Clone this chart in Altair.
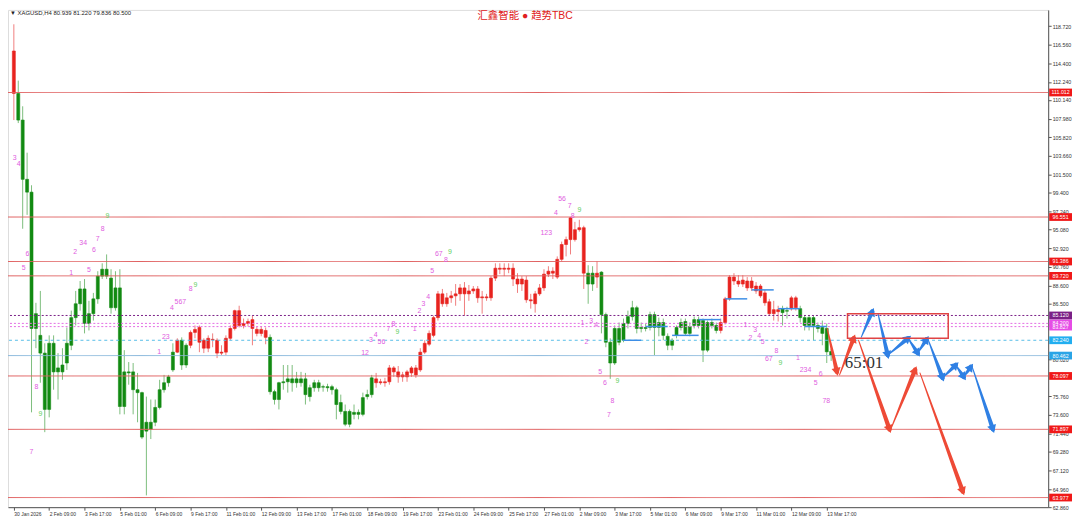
import math
import altair as alt
import pandas as pd

# ---------------- data ----------------
bar_open = [115.83,110.90,107.81,100.93,99.44,85.33,82.81,80.75,74.21,81.89,79.03,78.57,79.60,81.66,84.87,86.48,88.20,84.19,85.33,87.05,
            89.69,90.49,89.46,86.02,88.32,74.55,78.57,78.57,76.50,76.16,71.69,71.92,72.72,74.44,76.50,77.31,78.80,80.86,82.24,79.37,
            81.66,83.15,83.73,82.24,81.32,82.35,82.24,80.75,80.86,82.47,83.61,85.68,83.96,84.19,84.64,83.50,83.04,83.38,82.58,76.27,
            75.36,77.31,77.42,77.76,77.31,77.76,77.76,75.70,76.73,77.31,76.85,76.85,76.85,76.50,75.01,73.98,72.49,73.87,73.64,73.64,
            75.70,75.93,77.31,77.42,77.31,77.42,79.03,78.57,77.99,77.99,78.45,78.22,78.80,80.86,81.78,82.81,84.87,87.63,86.48,87.17,
            87.40,87.63,88.32,87.63,87.97,88.20,87.17,87.28,87.17,89.46,90.61,90.49,90.61,90.61,89.35,88.77,89.23,86.94,86.48,87.63,
            88.32,89.92,90.26,89.58,91.64,93.36,93.93,95.08,95.08,95.31,90.03,90.03,89.58,90.15,85.22,82.01,79.60,83.61,82.24,84.19,
            84.99,86.02,83.61,83.61,83.73,85.22,84.30,84.30,82.70,81.66,82.81,83.73,84.42,83.04,83.96,84.64,84.53,81.09,84.30,83.96,
            83.38,84.30,87.05,89.58,89.12,88.77,89.12,88.32,88.54,88.54,87.74,86.71,85.33,85.79,85.45,85.68,85.91,87.17,85.91,84.87,
            83.96,84.87,83.96,83.73,83.61,80.94]
bar_high = [118.93,112.39,109.41,104.02,100.24,86.59,87.97,81.89,82.81,82.81,80.75,81.32,83.73,85.68,87.97,89.12,89.35,86.82,87.74,90.26,
            91.18,92.21,90.49,90.26,90.49,81.09,79.71,79.60,78.45,76.27,75.70,75.36,75.36,77.65,78.22,78.22,81.89,82.47,82.58,81.89,
            83.38,83.96,83.96,82.47,82.81,83.04,82.47,81.66,82.81,83.96,85.79,86.25,84.76,84.76,85.10,83.84,83.84,83.73,82.92,76.50,
            77.42,79.37,79.37,79.37,78.57,78.57,78.45,77.08,77.65,77.65,77.08,77.19,77.08,76.73,75.93,74.78,74.21,74.78,74.21,76.16,
            76.50,78.22,78.45,77.76,77.88,79.37,79.25,79.25,78.57,78.80,79.25,79.37,81.32,82.24,83.38,85.10,87.97,88.20,87.74,87.97,
            88.77,88.77,89.00,88.66,88.54,88.54,87.97,87.63,89.69,91.18,91.18,91.18,91.18,91.18,90.03,89.69,89.69,87.63,87.97,88.77,
            90.49,90.84,90.72,91.98,93.70,94.28,96.57,95.99,96.23,95.54,90.95,90.84,91.41,90.26,85.45,82.47,83.96,84.30,84.76,85.68,
            86.82,86.25,84.30,84.19,85.56,85.56,84.87,84.76,83.04,82.47,83.96,84.76,84.76,84.30,84.99,84.99,84.76,84.53,84.76,84.30,
            84.76,87.28,89.80,90.03,89.80,89.80,89.58,89.58,89.00,88.77,88.09,87.05,86.82,86.25,86.25,86.13,87.40,87.40,86.25,85.10,
            85.10,85.10,84.30,84.53,84.19,81.22]
bar_low = [107.81,107.46,95.19,96.80,73.87,81.32,77.31,71.57,73.29,76.50,75.36,77.65,78.80,81.09,83.96,85.68,83.04,83.38,84.53,86.48,
           89.35,89.35,85.33,85.68,73.64,73.64,77.08,73.64,72.72,70.77,64.23,70.77,72.26,74.21,76.16,76.85,78.57,80.75,78.80,79.03,
           81.32,82.47,80.86,80.75,80.86,81.43,80.17,80.52,80.52,82.24,83.38,83.73,83.61,83.84,81.66,82.70,82.70,81.78,75.93,74.78,
           74.21,76.50,76.16,76.27,76.73,76.85,74.78,75.13,76.27,76.27,76.27,76.27,75.93,73.06,73.64,72.26,72.14,73.06,73.06,73.41,
           75.36,75.58,76.73,77.08,76.85,77.08,77.99,77.31,77.42,77.42,77.99,77.88,78.57,80.63,81.55,82.58,84.53,86.13,86.13,86.59,
           86.25,86.82,85.10,86.82,87.63,86.59,85.33,86.82,86.82,89.12,89.92,89.69,90.03,88.54,87.74,87.97,86.59,85.91,85.45,87.40,
           87.97,89.58,89.35,89.35,91.41,91.98,92.21,93.70,94.85,88.20,86.48,87.97,88.32,83.04,81.43,77.76,79.37,81.66,82.01,83.61,
           84.53,83.04,83.15,83.27,83.38,80.52,82.70,82.24,81.09,81.09,82.47,83.38,82.81,82.70,83.61,83.61,79.71,80.86,83.61,83.04,
           83.04,84.07,86.82,88.66,88.43,88.43,87.97,87.97,87.63,87.17,86.25,85.10,84.53,84.42,83.96,84.76,85.68,85.68,84.30,83.38,
           83.38,82.24,83.15,81.66,79.60,79.84]
bar_close = [110.90,107.81,100.93,99.44,83.61,83.61,80.75,74.21,81.89,78.57,78.57,79.37,81.89,84.87,86.48,88.20,84.19,85.33,87.05,89.69,
             90.49,89.69,86.02,88.32,74.55,78.57,78.45,76.50,76.16,71.00,72.72,72.72,74.44,76.50,77.31,77.99,80.86,82.24,79.37,81.66,
             83.15,83.50,82.01,81.32,82.47,82.30,80.75,80.86,82.47,83.61,85.68,83.96,84.19,84.42,83.61,83.04,83.50,82.58,76.27,75.36,
             77.31,77.42,77.76,77.31,77.76,77.31,75.93,76.73,77.31,76.73,76.80,76.73,76.50,74.78,73.98,72.49,73.98,73.64,73.87,75.58,
             75.93,77.88,77.76,77.31,77.42,79.03,78.57,77.99,78.22,78.57,79.03,79.03,80.86,81.89,83.04,84.87,87.63,86.48,87.17,87.40,
             87.63,88.32,87.63,87.97,88.20,87.17,87.28,87.17,89.46,90.61,90.49,90.61,90.49,89.35,88.77,89.35,86.94,86.82,87.63,88.32,
             89.92,90.26,90.03,91.64,93.36,93.93,96.46,93.93,95.31,90.03,88.77,88.77,90.03,85.22,82.01,79.60,83.61,82.01,84.19,84.99,
             86.02,83.61,83.73,83.73,85.22,83.73,83.73,82.81,81.66,82.24,83.73,84.30,83.04,83.84,84.64,83.96,81.09,84.30,83.96,83.38,
             84.30,87.05,89.58,89.12,88.77,89.23,88.32,89.12,87.97,87.40,86.59,85.33,85.79,85.56,85.91,85.62,87.17,86.02,84.87,83.96,
             84.87,83.96,83.61,83.04,80.90,80.50]
trend_runs = [("R", 1), ("G", 36), ("R", 1), ("G", 2), ("R", 18), ("G", 24), ("R", 48), ("G", 2),
              ("R", 1), ("G", 27), ("R", 14), ("G", 2), ("R", 2), ("G", 8)]

x_labels = ["30 Jan 2026", "2 Feb 09:00", "3 Feb 17:00", "5 Feb 01:00", "6 Feb 09:00", "9 Feb 17:00",
            "11 Feb 01:00", "12 Feb 09:00", "13 Feb 17:00", "17 Feb 01:00", "18 Feb 09:00", "19 Feb 17:00",
            "23 Feb 01:00", "24 Feb 09:00", "25 Feb 17:00", "27 Feb 01:00", "2 Mar 09:00", "3 Mar 17:00",
            "5 Mar 01:00", "6 Mar 09:00", "9 Mar 17:00", "11 Mar 01:00", "12 Mar 09:00", "13 Mar 17:00"]
y_ticks = [118.720, 116.560, 114.400, 112.240, 110.140, 107.980, 105.820, 103.660, 101.500,
           99.400, 97.240, 95.080, 92.920, 90.760, 88.600, 86.500, 80.020,
           75.760, 73.600, 71.440, 69.280, 67.120, 64.960, 62.860]

level_price = [111.012, 96.551, 91.386, 89.720, 84.200, 85.120, 83.827, 82.240, 80.462, 78.097, 71.897, 63.977]
level_kind = ["red", "red", "red", "red", "magenta", "purple", "magenta", "cyan", "blue", "red", "red", "red"]

step_start = [138, 143, 149, 155, 161, 167, 173, 179]
step_end = [142, 148, 155, 160, 166, 172, 178, 184]
step_price = [82.24, 83.84, 82.81, 84.64, 87.05, 88.09, 85.91, 83.84]

td_bar = [0.2, 1.1, 2.2, 3.1, 4.0, 5.1, 6.0,
          13.0, 13.9, 15.7, 17.0, 18.1, 19.0, 20.1, 21.2,
          32.9, 34.4, 35.8, 37.7, 40.0, 41.1,
          79.5, 80.8, 81.9, 83.2, 84.8, 85.9, 86.8,
          90.7, 91.8, 92.7, 93.8, 94.7, 96.2, 97.8, 98.7,
          120.5, 122.7, 124.1, 125.8, 126.5, 128.0,
          128.7, 129.6, 130.7, 131.8, 132.7, 133.8, 134.7, 135.5, 136.6,
          165.6, 166.7, 167.8, 168.7, 169.5, 170.9, 172.6, 173.5,
          177.5, 179.2, 181.5, 182.6, 183.9]
td_price = [103.45, 102.76, 90.61, 92.21, 69.28, 76.85, 73.64,
            90.03, 92.44, 93.59, 90.38, 92.67, 94.05, 95.19, 96.69,
            80.86, 82.58, 86.02, 86.71, 88.20, 88.66,
            80.75, 82.24, 82.81, 82.01, 83.50, 84.07, 83.15,
            83.50, 85.68, 86.48, 87.28, 90.26, 92.21, 91.52, 92.44,
            94.74, 97.03, 98.63, 97.82, 96.69, 97.38,
            84.30, 82.01, 84.53, 83.96, 78.57, 77.31, 73.52, 75.13, 77.54,
            83.96, 82.47, 83.38, 82.70, 82.01, 80.06, 80.98, 79.60,
            80.17, 78.80, 77.31, 78.34, 75.13]
td_text = ["3", "4", "5", "6", "7", "8", "9",
           "1", "2", "34", "5", "6", "7", "8", "9",
           "1", "23", "4", "567", "8", "9",
           "12", "3", "4", "56", "7", "8", "9",
           "1", "2", "3", "4", "5", "67", "8", "9",
           "123", "4", "56", "7", "8", "9",
           "1", "2", "3", "4", "5", "6", "7", "8", "9",
           "1", "2", "3", "4", "5", "67", "8", "9",
           "1", "234", "5", "6", "78"]

red_arrow_b1 = [184.1, 186.9, 191.2, 198.5, 205.1]
red_arrow_p1 = [83.61, 78.22, 82.24, 71.92, 78.45]
red_arrow_b2 = [186.3, 190.1, 198.2, 204.0, 214.8]
red_arrow_p2 = [78.57, 82.47, 71.92, 78.80, 64.69]
blue_arrow_b1 = [191.8, 195.6, 197.8, 202.4, 204.6, 207.0, 210.2, 213.2, 215.0, 217.0]
blue_arrow_p1 = [82.58, 85.33, 80.52, 82.47, 80.75, 82.24, 77.88, 79.37, 77.99, 79.03]
blue_arrow_b2 = [194.3, 197.8, 202.4, 204.6, 206.6, 210.2, 213.2, 215.0, 216.6, 221.6]
blue_arrow_p2 = [85.56, 80.52, 82.47, 80.75, 82.35, 77.88, 79.37, 77.99, 79.14, 71.92]

box_bar = [188.7, 211.5]
box_price = [82.47, 85.33]
timer_bar = [188.1]
timer_price = [79.60]
timer_text = ["65:01"]

title_text = "汇鑫智能 ● 趋势TBC"
header_text = "▼  XAGUSD,H4  80.939 81.220 79.836 80.500"

# ---------------- layout / style ----------------
W, H = 1048, 501
X_DOMAIN = [-0.2, 233.0]
Y_DOMAIN = [62.86, 120.6]
FONT = "Liberation Sans"

BODY = {"R": "#e8231f", "G": "#128a12"}
WICK = {"R": "#f07e7e", "G": "#7dbd7d"}
LINE_COL = {"red": "#e06060", "purple": "#7a1f86", "magenta": "#e46ee4", "cyan": "#58bde8", "blue": "#8ab8dc"}
BOX_COL = {"red": "#f01818", "purple": "#7a1f86", "magenta": "#e64ce6", "cyan": "#22aef0", "blue": "#2aa4e6"}
DASH = {"red": [1, 0], "purple": [2, 2], "magenta": [2, 2], "cyan": [3, 3], "blue": [1, 0]}

trend = []
for t, n in trend_runs:
    trend += [t] * n

candles = pd.DataFrame({
    "bar": list(range(len(bar_open))),
    "open": bar_open, "high": bar_high, "low": bar_low, "close": bar_close,
    "trend": trend,
})
candles["body_col"] = candles["trend"].map(BODY)
candles["wick_col"] = candles["trend"].map(WICK)

xs = alt.Scale(domain=X_DOMAIN, nice=False, zero=False)
ys = alt.Scale(domain=Y_DOMAIN, nice=False, zero=False)

label_arr = "[" + ",".join("'" + s + "'" for s in x_labels) + "]"
x_axis = alt.Axis(values=list(range(0, 8 * len(x_labels), 8)), labelExpr=label_arr + "[round(datum.value/8)]",
                  title=None, grid=False, labelAlign="left", labelFontSize=5, labelFont=FONT,
                  labelColor="#333333", labelPadding=1, tickSize=3, tickColor="#555555",
                  domainColor="#555555", labelOverlap=False, labelFlush=False)
y_axis = alt.Axis(orient="right", values=y_ticks, labelExpr="format(datum.value, '.3f')",
                  title=None, grid=False, labelFontSize=5.3, labelFont=FONT, labelColor="#333333",
                  labelPadding=1, tickSize=3, tickColor="#555555", domainColor="#555555",
                  labelOverlap=False, labelFlush=False)


def X(field):
    return alt.X(field, scale=xs, axis=x_axis)


def Y(field):
    return alt.Y(field, scale=ys, axis=y_axis)


wicks = alt.Chart(candles).mark_rule(strokeWidth=1).encode(
    x=X("bar:Q"), y=Y("low:Q"), y2="high:Q",
    color=alt.Color("wick_col:N", scale=None),
)
bodies = alt.Chart(candles).mark_bar(size=3, strokeWidth=0.6).encode(
    x=X("bar:Q"), y=Y("open:Q"), y2="close:Q",
    color=alt.Color("body_col:N", scale=None),
    stroke=alt.Stroke("body_col:N", scale=None),
)

levels = pd.DataFrame({"price": level_price, "kind": level_kind})
levels["col"] = levels["kind"].map(LINE_COL)
levels["box"] = levels["kind"].map(BOX_COL)
levels["lo"] = levels["price"] - 0.45
levels["hi"] = levels["price"] + 0.45
levels["label"] = levels["price"].map(lambda v: f"{v:.3f}")

level_layers = []
for kind in ["red", "purple", "magenta", "cyan", "blue"]:
    sub = levels[levels["kind"] == kind]
    level_layers.append(
        alt.Chart(sub).mark_rule(strokeWidth=1, strokeDash=DASH[kind]).encode(
            y=Y("price:Q"),
            color=alt.Color("col:N", scale=None),
        )
    )

steps = pd.DataFrame({"b1": step_start, "b2": step_end, "price": step_price})
step_layer = alt.Chart(steps).mark_rule(strokeWidth=1.5, color="#3d8ee6").encode(
    x=X("b1:Q"), x2="b2:Q", y=Y("price:Q"),
)

td = pd.DataFrame({"bar": td_bar, "price": td_price, "text": td_text})
td["col"] = ["#5fcf5f" if t == "9" else "#e05ce0" for t in td_text]
td_layer = alt.Chart(td).mark_text(fontSize=7, font=FONT).encode(
    x=X("bar:Q"), y=Y("price:Q"),
    text="text:N",
    color=alt.Color("col:N", scale=None),
)

# forecast arrows
kx = W / (X_DOMAIN[1] - X_DOMAIN[0])
ky = H / (Y_DOMAIN[1] - Y_DOMAIN[0])
trail_rows, head_rows = [], []
arrow_sets = [("#ee4a36", red_arrow_b1, red_arrow_p1, red_arrow_b2, red_arrow_p2),
              ("#2f80e4", blue_arrow_b1, blue_arrow_p1, blue_arrow_b2, blue_arrow_p2)]
seg = 0
for col, b1s, p1s, b2s, p2s in arrow_sets:
    for b1, p1, b2, p2 in zip(b1s, p1s, b2s, p2s):
        trail_rows.append({"seg": seg, "bar": b1, "price": p1, "w": 1.0, "col": col})
        trail_rows.append({"seg": seg, "bar": b2, "price": p2, "w": 4.5, "col": col})
        sx = (b2 - b1) * kx
        sy = -(p2 - p1) * ky
        ang = math.degrees(math.atan2(sx, -sy)) % 360
        head_rows.append({"bar": b2, "price": p2, "ang": ang, "col": col})
        seg += 1
trails = alt.Chart(pd.DataFrame(trail_rows)).mark_trail().encode(
    x=X("bar:Q"), y=Y("price:Q"),
    size=alt.Size("w:Q", scale=None),
    detail="seg:N",
    color=alt.Color("col:N", scale=None),
)
heads = alt.Chart(pd.DataFrame(head_rows)).mark_point(shape="triangle-up", filled=True, size=85, opacity=1).encode(
    x=X("bar:Q"), y=Y("price:Q"),
    angle=alt.Angle("ang:Q", scale=None),
    color=alt.Color("col:N", scale=None),
)

box = alt.Chart(pd.DataFrame({"b1": [box_bar[0]], "b2": [box_bar[1]], "p1": [box_price[0]], "p2": [box_price[1]]})).mark_rect(
    fillOpacity=0, stroke="#e04444", strokeWidth=1.5).encode(
    x=X("b1:Q"), x2="b2:Q", y=Y("p1:Q"), y2="p2:Q",
)
timer = alt.Chart(pd.DataFrame({"bar": timer_bar, "price": timer_price, "text": timer_text})).mark_text(
    font="Liberation Serif", fontSize=17, color="#333333", align="left", baseline="middle").encode(
    x=X("bar:Q"), y=Y("price:Q"), text="text:N",
)

# right-axis price boxes
label_boxes = []
for kind in ["red", "blue", "cyan", "magenta", "purple"]:
    sub = levels[levels["kind"] == kind]
    label_boxes.append(alt.Chart(sub).mark_rect().encode(
        x=alt.value(W + 1), x2=alt.value(W + 24),
        y=Y("lo:Q"), y2="hi:Q",
        color=alt.Color("box:N", scale=None),
    ))
    label_boxes.append(alt.Chart(sub).mark_text(fontSize=5.3, font=FONT, color="white", align="center", baseline="middle").encode(
        x=alt.value(W + 12.5),
        y=Y("price:Q"),
        text="label:N",
    ))

one = pd.DataFrame({"t": [title_text], "h": [header_text]})
title = alt.Chart(one).mark_text(font="Liberation Sans, Noto Sans CJK SC", fontSize=10.5, color="#e02020",
                                 align="center", baseline="middle").encode(
    x=alt.value(521), y=alt.value(6), text="t:N")
header = alt.Chart(one).mark_text(font=FONT, fontSize=6, color="#222222", align="left", baseline="middle").encode(
    x=alt.value(2), y=alt.value(3), text="h:N")

chart = alt.layer(
    wicks, bodies, *level_layers, step_layer, td_layer, trails, heads, box, timer, *label_boxes, title, header
).properties(
    width=W, height=H,
    autosize=alt.AutoSizeParams(type="none"),
    padding={"left": 0, "top": 0, "right": 24, "bottom": 12},
).configure_view(stroke="#a8a8a8", strokeWidth=1).configure(background="white")

chart.save("out.html", embed_options={"renderer": "svg", "actions": False})
